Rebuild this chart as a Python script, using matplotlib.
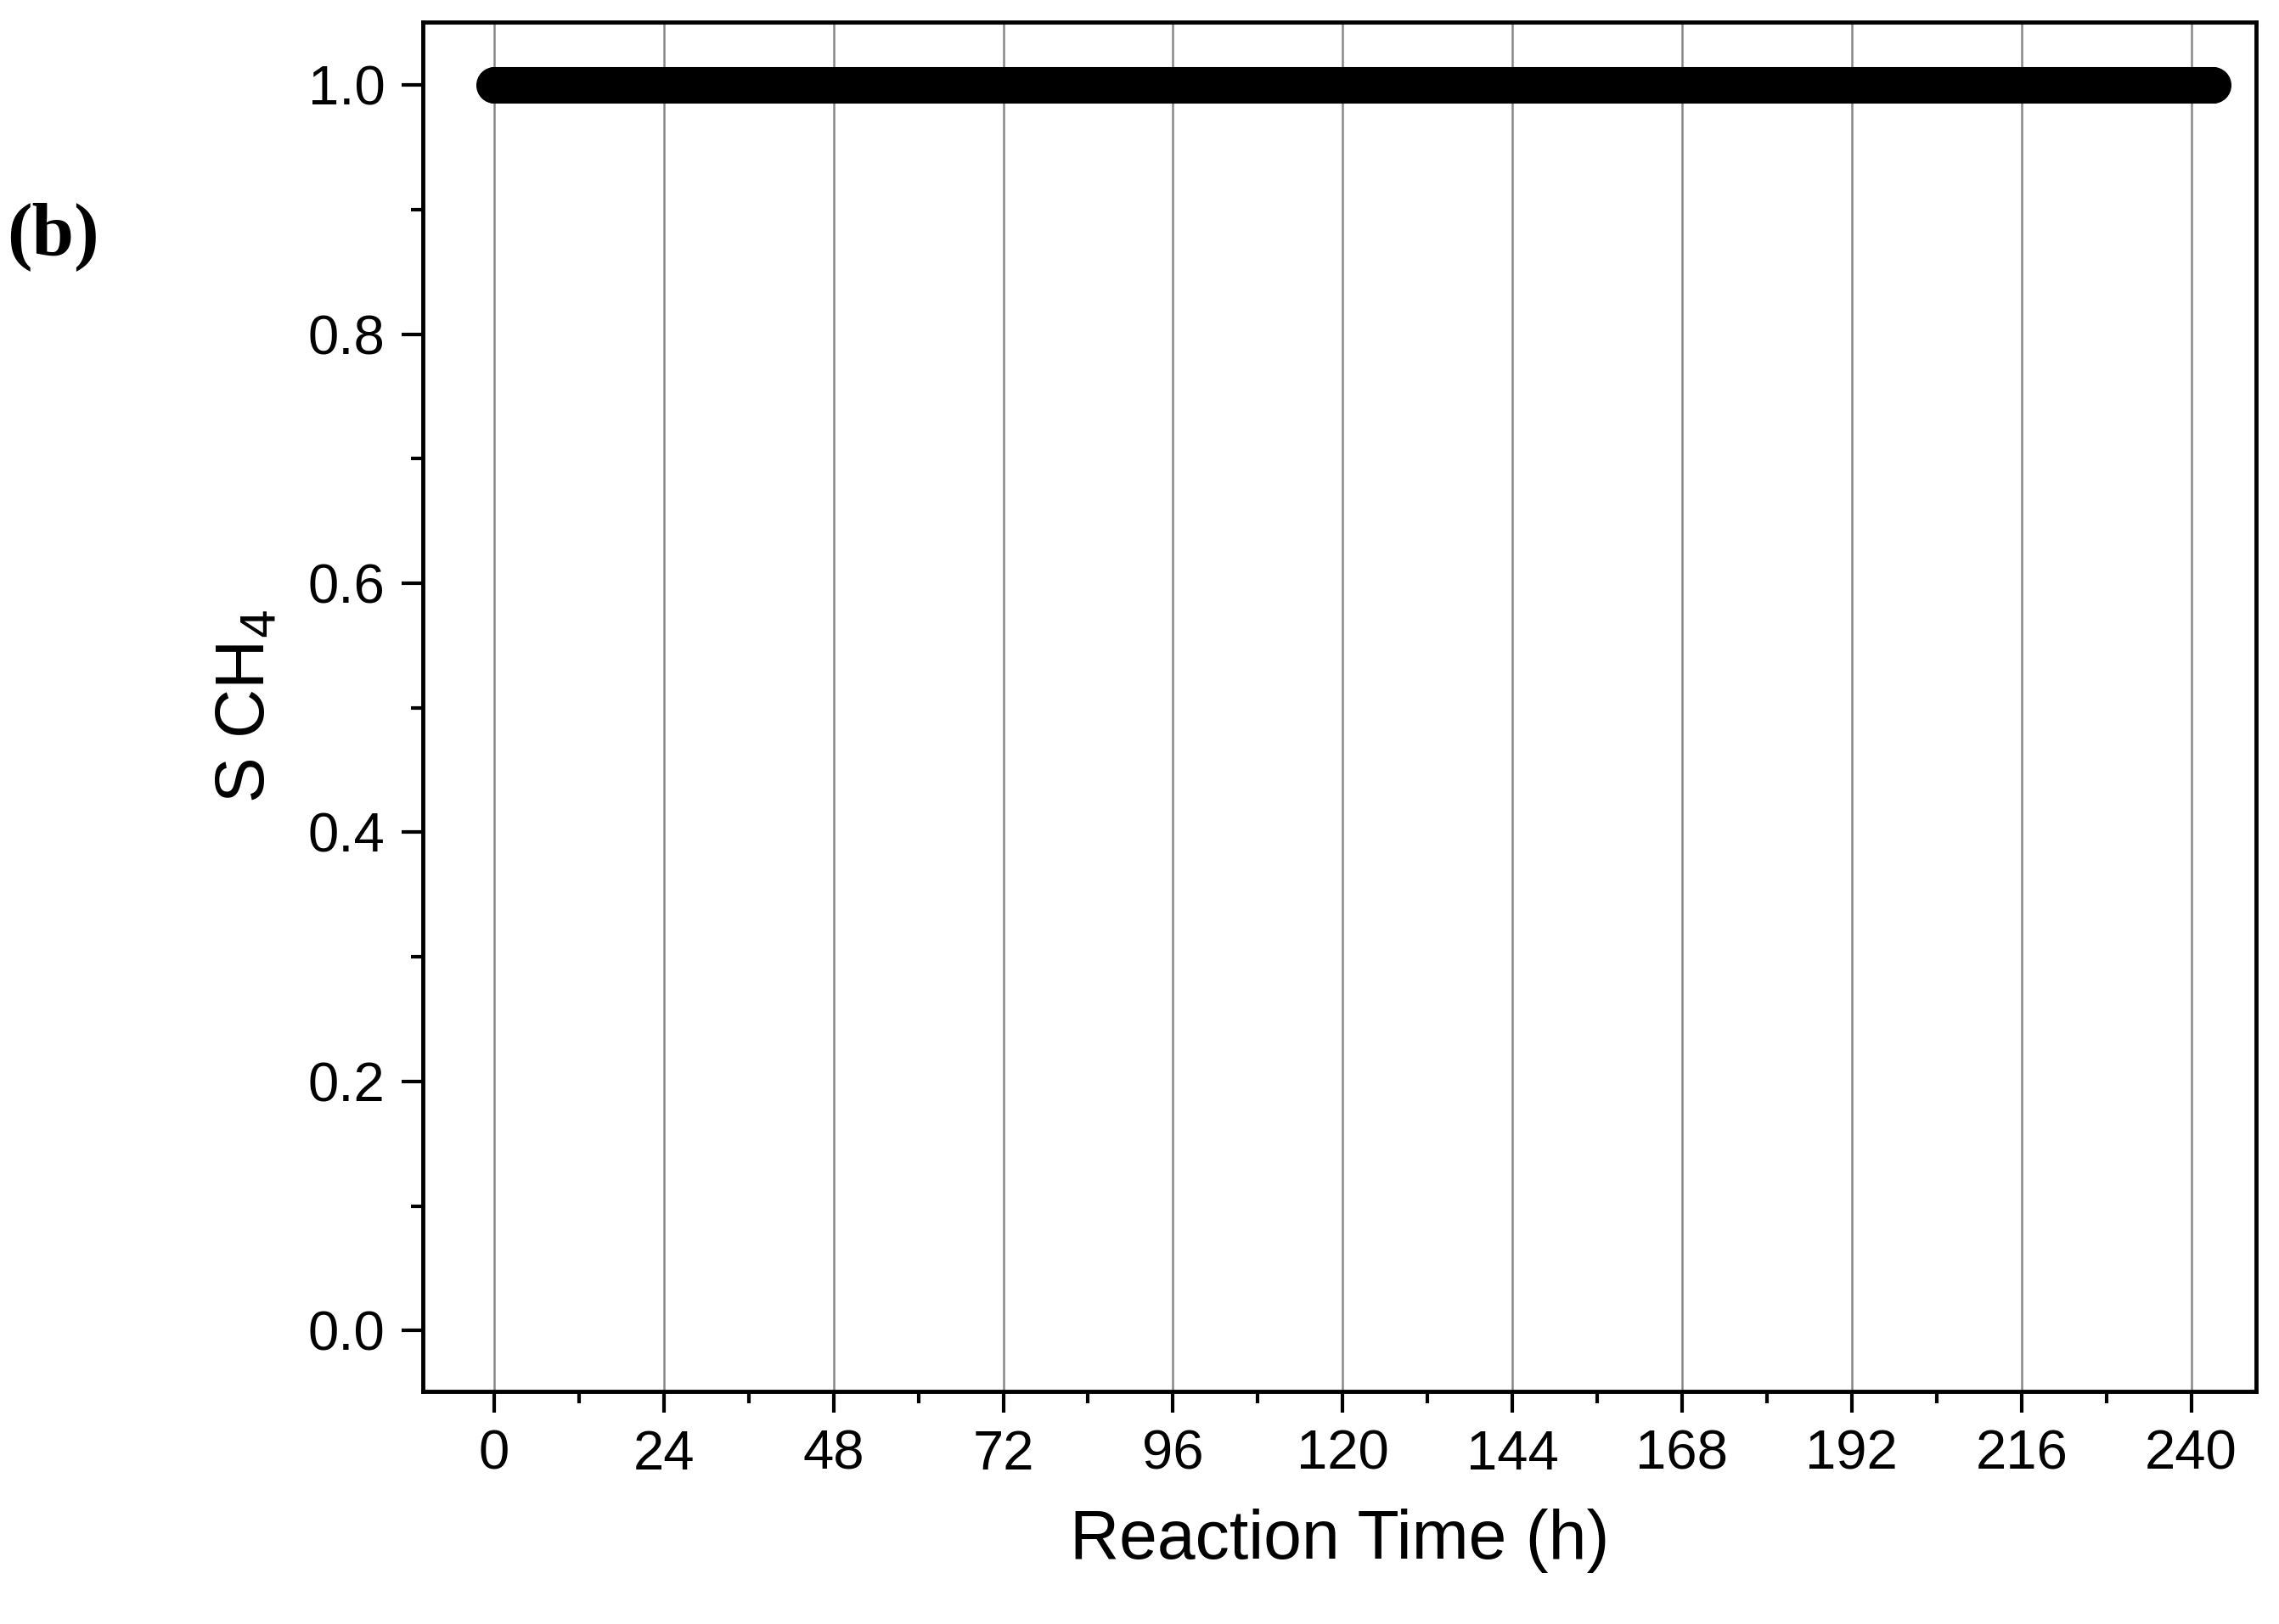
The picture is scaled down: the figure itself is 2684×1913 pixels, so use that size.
import numpy as np
import matplotlib.pyplot as plt
from matplotlib.ticker import MultipleLocator

plt.rcParams['font.family'] = ['Liberation Sans', 'DejaVu Sans']

# data: selectivity held at 1.0 over the whole run (sampled densely)
t_start = 0.0
t_end = 243.0
t_step = 0.1
s_level = 1.0
time = np.arange(t_start, t_end + t_step, t_step)
s_ch4 = np.full(time.shape, s_level)

xticks = [0, 24, 48, 72, 96, 120, 144, 168, 192, 216, 240]
yticks = [0.0, 0.2, 0.4, 0.6, 0.8, 1.0]

fig = plt.figure(figsize=(26.84, 19.13), dpi=100)
ax = fig.add_axes([0.1856, 0.1432, 0.8044, 0.8434])
ax.plot(time, s_ch4, 'o', color='black', markersize=31, markeredgewidth=0)

ax.set_xlim(-10.07, 249.2)
ax.set_ylim(-0.049, 1.051)
ax.set_xticks(xticks)
ax.set_yticks(yticks)
ax.set_yticklabels([f'{v:.1f}' for v in yticks])
ax.xaxis.set_minor_locator(MultipleLocator(12))
ax.yaxis.set_minor_locator(MultipleLocator(0.1))
ax.tick_params(which='major', direction='out', length=18, width=3, labelsize=47, pad=14)
ax.tick_params(which='minor', direction='out', length=10, width=3)
ax.grid(True, axis='x', which='major', color='#888888', linewidth=1.8)
for sp in ax.spines.values():
    sp.set_linewidth(3.5)

ax.set_xlabel('Reaction Time (h)', fontsize=58, labelpad=24)
ax.set_ylabel('S CH$_4$', fontsize=58, labelpad=24)

fig.text(0.003, 0.843, '(b)', fontsize=64, fontweight='bold', family='Liberation Serif')

fig.savefig('out.png', dpi=100)
